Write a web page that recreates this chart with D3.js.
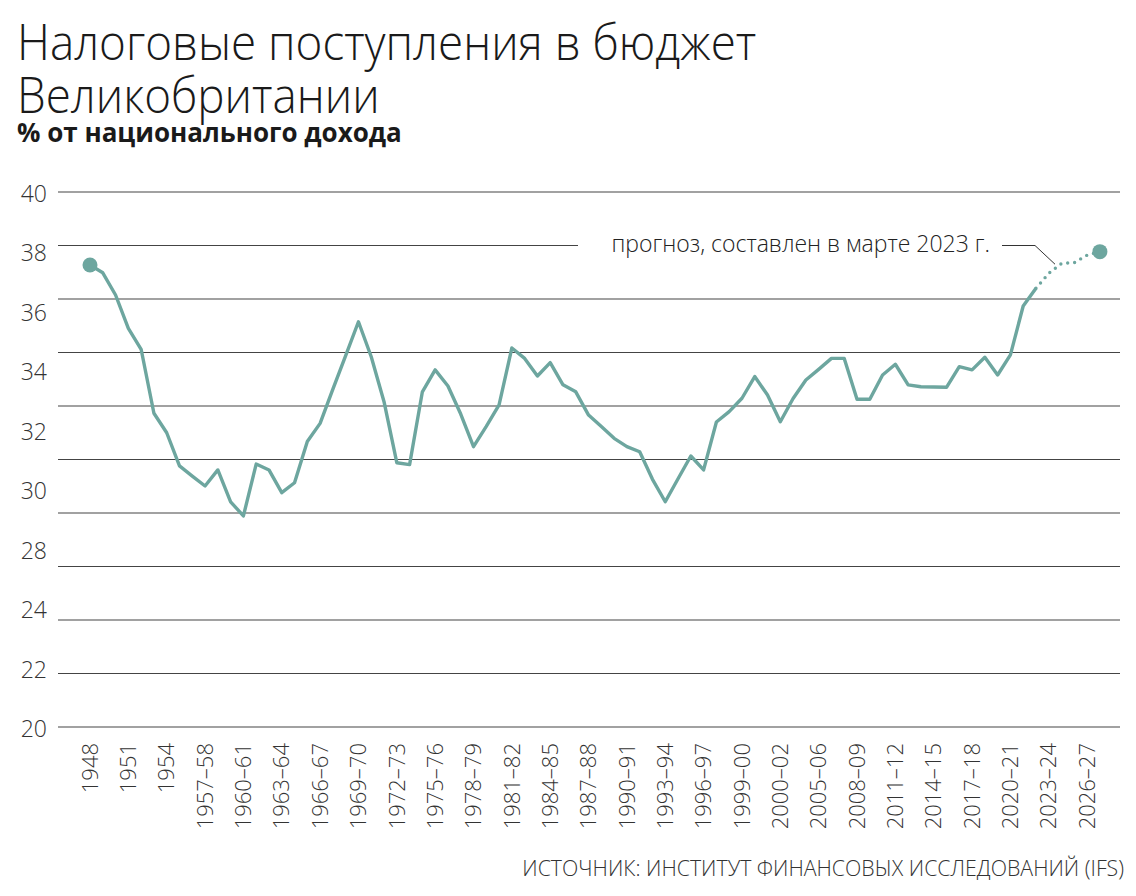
<!DOCTYPE html>
<html><head><meta charset="utf-8">
<script src="https://cdnjs.cloudflare.com/ajax/libs/d3/7.8.5/d3.min.js"></script>
<style>
html,body{margin:0;padding:0;background:#fff;}
svg{display:block;}
text{font-family:"Open Sans","Noto Sans",sans-serif;fill:#222;}
</style></head>
<body>
<svg id="chart" width="1136" height="896"></svg>
<script>
// ---- data (in gridline units) ----
const revenue = [
 37.27,36.98,36.15,34.90,34.12,31.73,31.00,29.76,29.38,29.01,
 29.61,28.42,27.89,29.83,29.61,28.76,29.13,30.67,31.35,32.63,
 33.88,35.15,33.84,32.16,29.88,29.81,32.53,33.35,32.75,31.70,
 30.48,31.24,32.04,34.17,33.78,33.12,33.62,32.79,32.53,31.66,
 31.23,30.79,30.48,30.29,29.26,28.42,29.28,30.13,29.61,31.40,
 31.79,32.29,33.10,32.41,31.41,32.28,32.97,33.37,33.78,33.78,
 32.25,32.25,33.16,33.56,32.79,32.72,32.71,32.70,33.47,33.35,
 33.82,33.16,33.91,35.74,36.40,36.96,37.33,37.36,37.64,37.77
];
const forecastStart = 74; // last actual point; dotted thereafter
const xTickLabels = ["1948","1951","1954","1957–58","1960–61","1963–64","1966–67","1969–70",
 "1972–73","1975–76","1978–79","1981–82","1984–85","1987–88","1990–91","1993–94","1996–97",
 "1999–00","2000–02","2005–06","2008–09","2011–12","2014–15","2017–18","2020–21","2023–24","2026–27"];
const yTickLabels = ["40","38","36","34","32","30","28","24","22","20"];
const gridValues = [20,22,24,26,28,30,32,34,36,38,40];
const titleLines = ["Налоговые поступления в бюджет","Великобритании"];
const subtitle = "% от национального дохода";
const note = "прогноз, составлен в марте 2023 г.";
const source = "ИСТОЧНИК: ИНСТИТУТ ФИНАНСОВЫХ ИССЛЕДОВАНИЙ (IFS)";

// ---- layout ----
const teal = "#6da69f";
const svg = d3.select("#chart");
const x = d3.scaleLinear().domain([0, revenue.length-1]).range([90, 1099.9]);
const y = d3.scaleLinear().domain([20, 40]).range([727, 192]);
const yLab = d3.scalePoint().domain(yTickLabels).range([194, 729]);
const xLab = d3.scalePoint().domain(xTickLabels).range([x(0), x(78)]);

// title (narrowed to match the reference face's proportions)
svg.append("g").selectAll("text").data(titleLines).join("text")
  .attr("x", 17).attr("y", (d,i)=>59.5+i*53)
  .style("font-size","49px").style("font-weight",300).style("fill","#1a1a1a")
  .text(d=>d)
  .each(function(){
    const w = this.getComputedTextLength();
    d3.select(this).attr("textLength", w*0.934).attr("lengthAdjust","spacingAndGlyphs");
  });
svg.append("text").attr("x",17).attr("y",142)
  .style("font-size","26px").style("font-weight",700).style("fill","#1a1a1a")
  .text(subtitle);

// gridlines
svg.append("g").selectAll("line").data(gridValues).join("line")
  .attr("x1",58).attr("x2",d=> d===38 ? 578 : 1120)
  .attr("y1",d=>y(d)).attr("y2",d=>y(d))
  .attr("stroke","#444").attr("stroke-width",1.1);

// y labels (as printed)
svg.append("g").selectAll("text").data(yTickLabels).join("text")
  .attr("x",47).attr("y",d=>yLab(d)).attr("dy","0.35em")
  .attr("text-anchor","end")
  .style("font-size","23px").style("font-weight",300).style("fill","#333")
  .text(d=>d);

// x labels
svg.append("g").selectAll("text").data(xTickLabels).join("text")
  .attr("transform",d=>`translate(${xLab(d)},743) rotate(-90)`)
  .attr("dy","0.35em").attr("text-anchor","end")
  .style("font-size","22px").style("font-weight",300).style("fill","#333")
  .text(d=>d);

// line
const line = d3.line().x(d=>x(d.i)).y(d=>y(d.v));
const pts = revenue.map((v,i)=>({i,v}));
svg.append("path").datum(pts.filter(p=>p.i<=forecastStart))
  .attr("d",line).attr("fill","none").attr("stroke",teal)
  .attr("stroke-width",3.4).attr("stroke-linejoin","round");
svg.append("path").datum(pts.filter(p=>p.i>=forecastStart))
  .attr("d",line).attr("fill","none").attr("stroke",teal)
  .attr("stroke-width",3.4).attr("stroke-linecap","round")
  .attr("stroke-dasharray","0 7").attr("stroke-dashoffset",-7);
// end dots
svg.append("g").selectAll("circle").data([pts[0], pts[pts.length-1]]).join("circle")
  .attr("cx",d=>x(d.i)).attr("cy",d=>y(d.v)).attr("r",7.5).attr("fill",teal);

// annotation
svg.append("text").attr("x",990).attr("y",252).attr("text-anchor","end")
  .style("font-size","23px").style("font-weight",300).style("fill","#222")
  .text(note);
svg.append("path")
  .attr("d",`M1002,${y(38)}H1035L1055,${y(37.3)}`)
  .attr("fill","none").attr("stroke","#333").attr("stroke-width",1);

// source
svg.append("text").attr("x",1124).attr("y",876).attr("text-anchor","end")
  .style("font-size","21.3px").style("font-weight",300).style("fill","#333")
  .text(source);
</script>
</body></html>
